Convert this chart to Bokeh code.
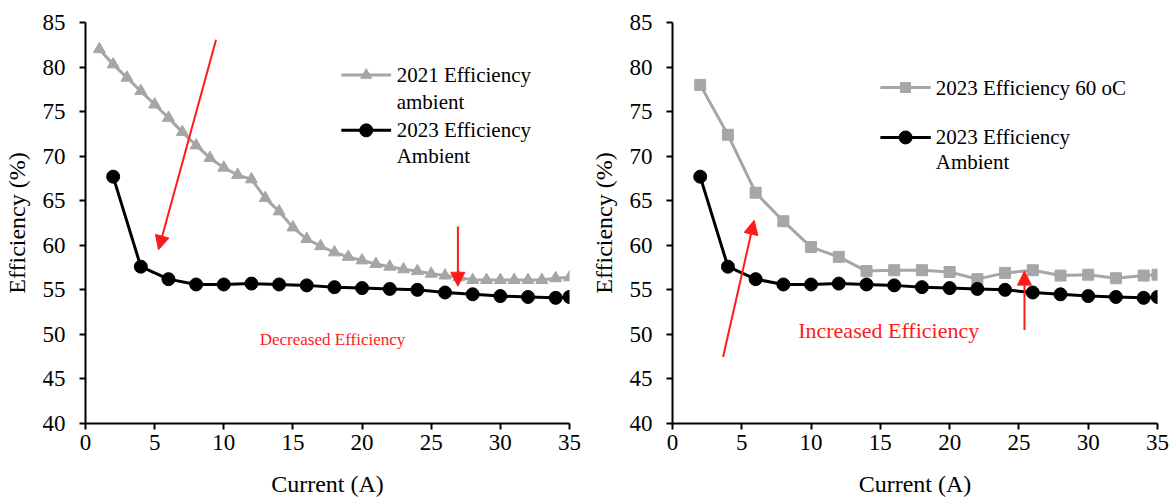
from bokeh.plotting import figure
from bokeh.layouts import row
from bokeh.models import Arrow, NormalHead, Label, FixedTicker
from bokeh.embed import file_html
from bokeh.resources import INLINE

# ---------------- data ----------------
current_2021 = list(range(1, 36))
eff_2021_ambient = [82.0, 80.3, 78.8, 77.3, 75.8, 74.3, 72.7, 71.2, 69.8, 68.7,
                    67.9, 67.4, 65.3, 63.8, 62.0, 60.7, 59.9, 59.2, 58.7, 58.3,
                    57.9, 57.6, 57.3, 57.1, 56.8, 56.6, 56.4, 56.1, 56.1, 56.1,
                    56.1, 56.1, 56.1, 56.3, 56.4]

current_2023 = [2, 4, 6, 8, 10, 12, 14, 16, 18, 20, 22, 24, 26, 28, 30, 32, 34, 35]
eff_2023_ambient = [67.7, 57.6, 56.2, 55.6, 55.6, 55.7, 55.6, 55.5, 55.3, 55.2,
                    55.1, 55.0, 54.7, 54.5, 54.3, 54.2, 54.1, 54.2]
eff_2023_60C = [78.0, 72.4, 65.9, 62.7, 59.8, 58.7, 57.1, 57.2, 57.2, 57.0,
                56.2, 56.9, 57.2, 56.6, 56.7, 56.3, 56.6, 56.7]

x_ticks = [0, 5, 10, 15, 20, 25, 30, 35]
y_ticks = [40, 45, 50, 55, 60, 65, 70, 75, 80, 85]

FONT = "Liberation Serif"
GRAY = "#a6a6a6"
RED = "#ff1a1a"


def make_fig(border_left, border_right):
    p = figure(width=586, height=499, x_range=(0, 35), y_range=(40, 85),
               output_backend="svg", toolbar_location=None,
               min_border_left=border_left, min_border_right=border_right,
               min_border_top=22, min_border_bottom=75)
    p.outline_line_color = None
    p.xgrid.grid_line_color = None
    p.ygrid.grid_line_color = None
    for ax in (p.xaxis[0], p.yaxis[0]):
        ax.axis_line_color = "black"
        ax.axis_line_width = 2
        ax.major_tick_line_color = "black"
        ax.major_tick_line_width = 2
        ax.major_tick_out = 6
        ax.major_tick_in = 0
        ax.minor_tick_line_color = None
        ax.major_label_text_font = FONT
        ax.major_label_text_font_size = "23px"
        ax.major_label_text_color = "black"
        ax.axis_label_text_font = FONT
        ax.axis_label_text_font_size = "24px"
        ax.axis_label_text_font_style = "normal"
        ax.axis_label_text_color = "black"
    p.xaxis.ticker = FixedTicker(ticks=x_ticks)
    p.yaxis.ticker = FixedTicker(ticks=y_ticks)
    p.xaxis.axis_label = "Current (A)"
    p.yaxis.axis_label = "Efficiency (%)"
    p.xaxis.axis_label_standoff = 18
    p.yaxis.axis_label_standoff = 10
    p.xaxis.major_label_standoff = 5
    p.yaxis.major_label_standoff = 14
    return p


def legend_entry(p, x0, x1, y, marker, color, size, lines, text_x, line_gap):
    p.line([x0, x1], [y, y], line_color=color, line_width=3)
    p.scatter([(x0 + x1) / 2], [y], marker=marker, size=size,
              fill_color=color, line_color=color)
    for i, t in enumerate(lines):
        p.add_layout(Label(x=text_x, y=y - i * line_gap, text=t,
                           text_font=FONT, text_font_size="21px",
                           text_baseline="middle", text_color="black"))


# ---------------- left ----------------
p1 = make_fig(84, 17)
p1.line(current_2021, eff_2021_ambient, line_color=GRAY, line_width=3)
p1.scatter(current_2021, eff_2021_ambient, marker="triangle", size=12,
           fill_color=GRAY, line_color=GRAY)
p1.line(current_2023, eff_2023_ambient, line_color="black", line_width=3)
p1.scatter(current_2023, eff_2023_ambient, marker="circle", size=13,
           fill_color="black", line_color="black")

legend_entry(p1, 18.5, 22.1, 79.1, "triangle", GRAY, 11,
             ["2021 Efficiency", "ambient"], 22.5, 3.0)
legend_entry(p1, 18.5, 22.1, 72.9, "circle", "black", 13,
             ["2023 Efficiency", "Ambient"], 22.5, 2.9)

p1.add_layout(Arrow(end=NormalHead(size=14, fill_color=RED, line_color=RED),
                    x_start=9.44, y_start=83.06, x_end=5.28, y_end=59.5,
                    line_color=RED, line_width=2))
p1.add_layout(Arrow(end=NormalHead(size=14, fill_color=RED, line_color=RED),
                    x_start=26.93, y_start=62.1, x_end=26.93, y_end=55.4,
                    line_color=RED, line_width=2))
p1.add_layout(Label(x=17.86, y=49.4, text="Decreased Efficiency",
                    text_font=FONT, text_font_size="17px", text_color=RED,
                    text_align="center", text_baseline="middle"))

# ---------------- right ----------------
p2 = make_fig(86, 15)
p2.line(current_2023, eff_2023_60C, line_color=GRAY, line_width=3)
p2.scatter(current_2023, eff_2023_60C, marker="square", size=11,
           fill_color=GRAY, line_color=GRAY)
p2.line(current_2023, eff_2023_ambient, line_color="black", line_width=3)
p2.scatter(current_2023, eff_2023_ambient, marker="circle", size=13,
           fill_color="black", line_color="black")

legend_entry(p2, 15.0, 18.64, 77.7, "square", GRAY, 10,
             ["2023 Efficiency 60 oC"], 19.0, 2.9)
legend_entry(p2, 15.0, 18.64, 72.1, "circle", "black", 13,
             ["2023 Efficiency", "Ambient"], 19.0, 2.8)

p2.add_layout(Arrow(end=NormalHead(size=14, fill_color=RED, line_color=RED),
                    x_start=3.65, y_start=47.46, x_end=5.89, y_end=62.8,
                    line_color=RED, line_width=2))
p2.add_layout(Arrow(end=NormalHead(size=14, fill_color=RED, line_color=RED),
                    x_start=25.4, y_start=50.5, x_end=25.4, y_end=57.1,
                    line_color=RED, line_width=2))
p2.add_layout(Label(x=15.6, y=50.4, text="Increased Efficiency",
                    text_font=FONT, text_font_size="22px", text_color=RED,
                    text_align="center", text_baseline="middle"))

layout = row(p1, p2)
open("out.html", "w").write(file_html(layout, INLINE))
